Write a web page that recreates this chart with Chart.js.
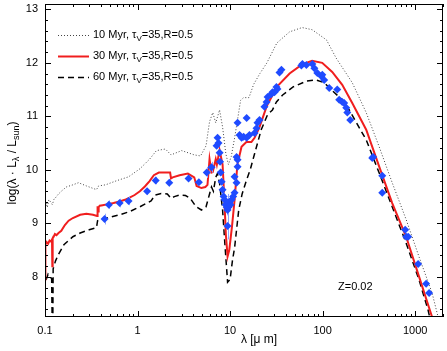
<!DOCTYPE html>
<html>
<head>
<meta charset="utf-8">
<script src="https://cdn.jsdelivr.net/npm/chart.js@4"></script>
<style>
  body { margin: 0; background: #fff; }
  canvas { display: block; }
</style>
</head>
<body>
<canvas id="sedChart" width="447" height="351"></canvas>
<script>
// model SEDs: [lambda in micron, log(lambda L_lambda / L_sun)]
const sed10 = [
  [0.1, 9.25], [0.103, 9.38], [0.106, 9.3], [0.11, 9.44], [0.115, 9.4], [0.12, 9.35],
  [0.125, 9.45], [0.13, 9.48], [0.14, 9.55], [0.15, 9.6], [0.17, 9.68], [0.2, 9.72],
  [0.23, 9.76], [0.28, 9.7], [0.36, 9.63], [0.38, 9.7], [0.45, 9.72], [0.6, 9.8],
  [0.8, 9.87], [1.06, 10.02], [1.35, 10.2], [1.6, 10.36], [2.0, 10.39], [2.3, 10.28],
  [3.0, 10.36], [4.1, 10.28], [4.8, 10.26], [5.5, 10.45], [6.0, 10.9], [6.5, 11.07],
  [7.0, 10.88], [7.7, 11.12], [8.3, 10.8], [9.0, 10.3], [9.6, 10.1], [10.3, 10.25],
  [11.2, 10.6], [12.2, 11.0], [13, 11.3], [14, 11.35], [16, 11.35], [18, 11.6],
  [21, 11.8], [25, 12.0], [32, 12.37], [44, 12.58], [60, 12.66], [77, 12.62],
  [110, 12.43], [140, 12.09], [209, 11.63], [296, 11.07], [409, 10.43], [565, 9.76],
  [800, 9.07], [1104, 8.37], [1524, 7.7], [1800, 7.2]
];
const sed30 = [
  [0.1, 7.95], [0.101, 8.6], [0.104, 8.65], [0.108, 8.62], [0.112, 8.68], [0.116, 8.66],
  [0.119, 8.7], [0.12, 8.2], [0.121, 8.72], [0.124, 8.75], [0.128, 8.8], [0.133, 8.78],
  [0.14, 8.82], [0.15, 8.86], [0.164, 8.97], [0.18, 9.05], [0.2, 9.1], [0.24, 9.16],
  [0.28, 9.18], [0.33, 9.16], [0.365, 9.14], [0.37, 9.32], [0.375, 9.22], [0.38, 9.3],
  [0.39, 9.33], [0.42, 9.34], [0.48, 9.36], [0.55, 9.38], [0.64, 9.41], [0.73, 9.44],
  [0.82, 9.48], [0.93, 9.53], [1.06, 9.6], [1.2, 9.69], [1.35, 9.79], [1.5, 9.9],
  [1.7, 9.95], [2.0, 9.95], [2.25, 9.95], [2.3, 9.84], [2.4, 9.86], [2.85, 9.9],
  [3.5, 9.93], [4.1, 9.86], [4.35, 9.7], [4.9, 9.66], [5.4, 9.68], [5.7, 9.72],
  [6.0, 10.2], [6.3, 9.95], [6.5, 9.96], [7.0, 10.2], [7.2, 10.1], [7.7, 10.37],
  [8.3, 10.1], [8.7, 9.4], [9.0, 8.8], [9.4, 8.38], [9.8, 8.5], [10.5, 8.95],
  [11.2, 9.45], [12.0, 10.1], [13.3, 10.43], [15.0, 10.52], [17.0, 10.52], [18.4, 10.6],
  [20.8, 10.8], [25, 11.2], [32, 11.55], [44, 11.8], [60, 11.97], [77, 12.04],
  [99, 12.0], [127, 11.83], [163, 11.59], [209, 11.25], [296, 10.75], [409, 10.06],
  [565, 9.38], [800, 8.75], [1104, 8.0], [1524, 7.25]
];
const sed60 = [
  [0.1, 7.2], [0.1005, 7.9], [0.103, 7.95], [0.108, 8.05], [0.113, 8.0], [0.118, 7.97],
  [0.1195, 7.2], [0.1215, 7.2], [0.1225, 8.15], [0.13, 8.3], [0.14, 8.42], [0.16, 8.6],
  [0.18, 8.68], [0.2, 8.75], [0.24, 8.82], [0.3, 8.88], [0.36, 8.92], [0.37, 9.05],
  [0.4, 9.07], [0.47, 9.1], [0.64, 9.16], [0.82, 9.22], [1.06, 9.31], [1.4, 9.42],
  [1.55, 9.53], [1.8, 9.56], [2.1, 9.55], [2.3, 9.47], [2.5, 9.5], [2.85, 9.53],
  [3.3, 9.52], [3.7, 9.47], [4.3, 9.31], [4.9, 9.25], [5.5, 9.31], [6.0, 9.55],
  [6.3, 9.68], [6.6, 9.6], [7.0, 9.86], [7.3, 9.93], [7.7, 9.75], [8.3, 9.25],
  [8.8, 8.6], [9.4, 7.9], [10.0, 7.95], [10.6, 8.3], [11.2, 8.55], [12.4, 9.25],
  [13.5, 9.55], [15, 9.8], [16.5, 10.0], [18.4, 10.3], [21.7, 10.75], [25.4, 11.03],
  [28.7, 11.12], [31.7, 11.27], [37, 11.4], [48, 11.55], [67, 11.66], [85, 11.68],
  [104, 11.63], [120, 11.52], [163, 11.31], [194, 11.12], [296, 10.56], [409, 9.94],
  [565, 9.31], [800, 8.63], [1104, 7.94], [1380, 7.38], [1500, 7.1]
];
// observed photometry: [lambda, log L, error]
const obs = [
  [0.44, 9.08, 0.1], [0.49, 9.35, 0.08], [0.64, 9.38, 0.08], [0.8, 9.42, 0.08],
  [1.27, 9.6, 0.06], [1.57, 9.8, 0.07], [2.2, 9.76, 0.07], [3.56, 9.84, 0.04],
  [4.6, 9.77, 0.03], [5.6, 9.95, 0.1], [6.3, 10.05, 0.1],
  [7.15, 10.45, 0.05], [7.33, 10.6, 0.05], [7.5, 10.5, 0.05], [7.71, 10.32, 0.05],
  [7.8, 10.15, 0.05], [7.9, 9.95, 0.06], [8.1, 9.78, 0.06], [8.3, 9.63, 0.06],
  [8.5, 9.5, 0.08], [8.73, 9.44, 0.1], [8.94, 9.35, 0.12], [9.2, 9.3, 0.15],
  [9.4, 9.25, 0.3], [9.4, 8.95, 0.25], [9.6, 9.3, 0.15], [9.88, 9.4, 0.12],
  [10.1, 9.35, 0.1], [10.4, 9.44, 0.08], [10.8, 9.5, 0.08], [11.18, 9.57, 0.06],
  [11.18, 9.87, 0.06], [11.75, 9.76, 0.05], [11.75, 10.24, 0.05], [12.05, 10.06, 0.05],
  [12.05, 10.19, 0.05], [12.05, 10.88, 0.05], [12.66, 10.65, 0.05], [13.3, 10.6, 0.05],
  [14, 10.62, 0.05], [15.1, 10.6, 0.05], [16.2, 10.65, 0.05], [15.1, 10.97, 0.05],
  [18.4, 10.69, 0.05], [19.3, 10.78, 0.05], [19.8, 10.88, 0.05], [20.8, 10.93, 0.05],
  [23.5, 11.18, 0.05], [24.8, 11.27, 0.05], [25.4, 11.36, 0.05], [28, 11.42, 0.05],
  [28.7, 11.45, 0.05], [30.2, 11.45, 0], [31.7, 11.55, 0], [32.5, 11.51, 0],
  [34.2, 11.82, 0], [35.9, 11.87, 0], [59, 11.95, 0], [60.5, 11.98, 0],
  [66.8, 11.96, 0], [77.5, 11.98, 0], [81.5, 11.9, 0], [87.7, 11.81, 0],
  [97, 11.75, 0], [99.3, 11.78, 0], [104, 11.68, 0], [118, 11.53, 0],
  [144, 11.5, 0], [151, 11.31, 0], [163, 11.27, 0], [171, 11.25, 0],
  [180, 11.16, 0], [185, 11.07, 0], [199, 10.93, 0], [344, 10.22, 0],
  [352, 10.24, 0], [441, 9.89, 0], [441, 9.57, 0], [780, 8.88, 0],
  [800, 8.75, 0], [841, 8.75, 0], [1077, 8.24, 0], [1314, 7.87, 0], [1416, 7.7, 0]
];
const xTickValues = [0.1, 1, 10, 100, 1000];
const yTickValues = [8, 9, 10, 11, 12, 13];
const legendLabels = ['10 Myr, ', '30 Myr, ', '60 Myr, '];

const FONT = "'Liberation Sans', Arial, Helvetica, sans-serif";
const toXY = (arr) => arr.map((p) => ({ x: p[0], y: p[1] }));

// draws text pieces, some of them as subscripts
function drawParts(ctx, parts, x, y) {
  let cx = x;
  parts.forEach((p) => {
    ctx.font = p[1] + 'px ' + FONT;
    ctx.fillText(p[0], cx, y + p[2]);
    cx += ctx.measureText(p[0]).width;
  });
  return cx - x;
}
function partsWidth(ctx, parts) {
  let w = 0;
  parts.forEach((p) => {
    ctx.font = p[1] + 'px ' + FONT;
    w += ctx.measureText(p[0]).width;
  });
  return w;
}

const decorations = {
  id: 'decorations',
  beforeDatasetDraw(chart, args) {
    if (args.index !== 0) return;
    const { ctx, scales: { x, y } } = chart;
    ctx.save();
    ctx.strokeStyle = '#8fa6ff';
    ctx.lineWidth = 1;
    obs.forEach((p) => {
      if (!p[2]) return;
      const px = Math.round(x.getPixelForValue(p[0])) + 0.5;
      ctx.beginPath();
      ctx.moveTo(px, y.getPixelForValue(p[1] - p[2]));
      ctx.lineTo(px, y.getPixelForValue(p[1] + p[2]));
      ctx.stroke();
    });
    ctx.restore();
  },
  afterDraw(chart) {
    const { ctx, chartArea: a, scales: { x, y } } = chart;
    ctx.save();
    ctx.strokeStyle = '#000';
    ctx.lineWidth = 1;
    ctx.strokeRect(a.left + 0.5, a.top + 0.5, a.right - a.left - 1, a.bottom - a.top - 1);

    // inward ticks, x axis
    ctx.beginPath();
    for (let d = -1; d <= 3; d++) {
      for (let m = 1; m < 10; m++) {
        const v = m * Math.pow(10, d);
        if (v < x.min || v > x.max) continue;
        const px = Math.round(x.getPixelForValue(v)) + 0.5;
        const len = m === 1 ? 6 : 3;
        ctx.moveTo(px, a.bottom);
        ctx.lineTo(px, a.bottom - len);
        ctx.moveTo(px, a.top);
        ctx.lineTo(px, a.top + len);
      }
    }
    // inward ticks, y axis every 0.2
    for (let k = 37; k <= 65; k++) {
      const v = k / 5;
      if (v < y.min || v > y.max) continue;
      const py = Math.round(y.getPixelForValue(v)) + 0.5;
      const len = k % 5 === 0 ? 6 : 3;
      ctx.moveTo(a.left, py);
      ctx.lineTo(a.left + len, py);
      ctx.moveTo(a.right, py);
      ctx.lineTo(a.right - len, py);
    }
    ctx.stroke();

    // legend
    const styles = [
      { color: '#444', width: 1, dash: [1, 2] },
      { color: '#f01e1e', width: 2, dash: [] },
      { color: '#000', width: 1.5, dash: [6, 4] }
    ];
    ctx.fillStyle = '#000';
    ctx.textBaseline = 'middle';
    ctx.textAlign = 'left';
    legendLabels.forEach((lab, i) => {
      const ly = 35 + i * 21;
      ctx.save();
      ctx.strokeStyle = styles[i].color;
      ctx.lineWidth = styles[i].width;
      ctx.setLineDash(styles[i].dash);
      ctx.beginPath();
      ctx.moveTo(58, ly + 0.5);
      ctx.lineTo(89, ly + 0.5);
      ctx.stroke();
      ctx.restore();
      drawParts(ctx, [[lab + '\u03c4', 11, 0], ['V', 8, 4], ['=35,R=0.5', 11, 0]], 93, ly);
    });

    // Z label
    ctx.font = '11px ' + FONT;
    ctx.fillText('Z=0.02', 338, 287);

    // x title
    ctx.font = '12px ' + FONT;
    ctx.textAlign = 'center';
    ctx.fillText('\u03bb [\u03bc m]', 259, 340);

    // y title
    ctx.textAlign = 'left';
    const yParts = [['log(\u03bb \u00b7 L', 12, 0], ['\u03bb', 9, 4], [' / L', 12, 0], ['sun', 9, 4], [')', 12, 0]];
    ctx.translate(13, 163);
    ctx.rotate(-Math.PI / 2);
    drawParts(ctx, yParts, -partsWidth(ctx, yParts) / 2, 0);
    ctx.restore();
  }
};

const ctx = document.getElementById('sedChart').getContext('2d');
new Chart(ctx, {
  type: 'scatter',
  data: {
    datasets: [
      {
        label: 'data',
        data: toXY(obs),
        pointStyle: 'rectRot',
        pointRadius: 4,
        pointBackgroundColor: '#1f4bff',
        pointBorderColor: '#1f4bff',
        pointBorderWidth: 0,
        showLine: false
      },
      {
        label: '30 Myr',
        data: toXY(sed30),
        showLine: true,
        borderColor: '#f01e1e',
        borderWidth: 2,
        pointRadius: 0,
        tension: 0
      },
      {
        label: '60 Myr',
        data: toXY(sed60),
        showLine: true,
        borderColor: '#000',
        borderWidth: 1.5,
        borderDash: [6, 4],
        pointRadius: 0,
        tension: 0
      },
      {
        label: '10 Myr',
        data: toXY(sed10),
        showLine: true,
        borderColor: '#444',
        borderWidth: 1,
        borderDash: [1, 2],
        pointRadius: 0,
        tension: 0
      }
    ]
  },
  options: {
    responsive: false,
    animation: false,
    devicePixelRatio: 1,
    layout: { padding: { top: 4, right: 2, left: 0, bottom: 0 } },
    plugins: { legend: { display: false }, tooltip: { enabled: false } },
    scales: {
      x: {
        type: 'logarithmic',
        min: 0.1,
        max: 2000,
        grid: { display: false, drawTicks: false },
        border: { display: false },
        ticks: {
          autoSkip: false,
          maxRotation: 0,
          padding: 7,
          color: '#000',
          font: { family: FONT, size: 11 },
          callback: (v) => String(v)
        },
        afterBuildTicks: (s) => { s.ticks = xTickValues.map((v) => ({ value: v })); },
        afterFit: (s) => { s.height = 34; s.paddingLeft = 0; s.paddingRight = 0; }
      },
      y: {
        type: 'linear',
        min: 7.25,
        max: 13.1,
        grid: { display: false, drawTicks: false },
        border: { display: false },
        ticks: {
          autoSkip: false,
          padding: 7,
          color: '#000',
          font: { family: FONT, size: 11 },
          callback: (v) => String(v)
        },
        afterBuildTicks: (s) => { s.ticks = yTickValues.map((v) => ({ value: v })); },
        afterFit: (s) => { s.width = 45; s.paddingTop = 0; s.paddingBottom = 0; }
      }
    }
  },
  plugins: [decorations]
});
</script>
</body>
</html>
